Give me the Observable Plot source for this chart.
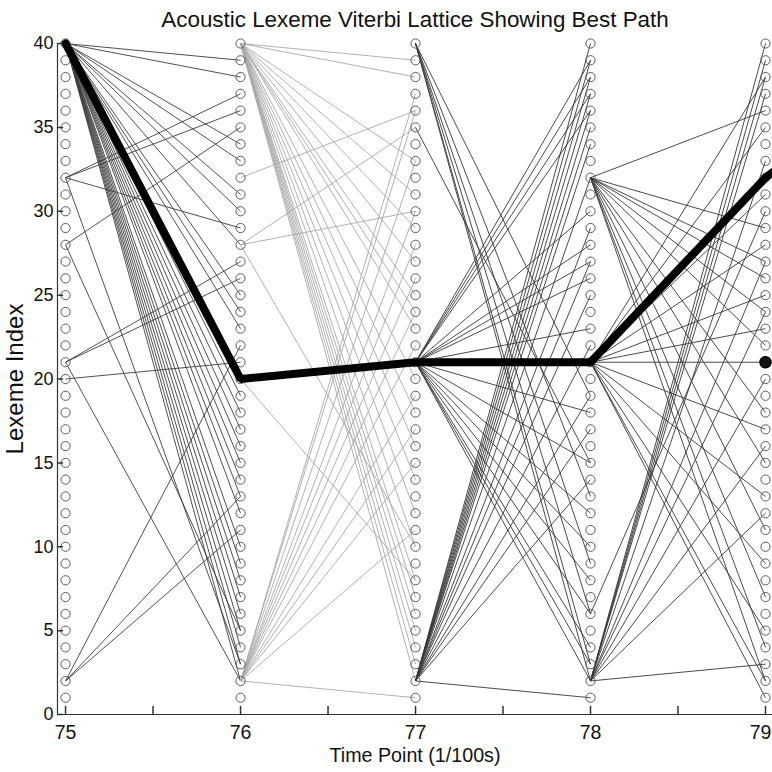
<!DOCTYPE html>
<html><head><meta charset="utf-8">
<script src="https://cdn.jsdelivr.net/npm/d3@7"></script>
<script src="https://cdn.jsdelivr.net/npm/@observablehq/plot@0.6"></script>
<style>html,body{margin:0;padding:0;background:#fff;overflow:hidden}svg{display:block}</style>
</head><body><div id="chart"></div>
<script>
const titleText = "Acoustic Lexeme Viterbi Lattice Showing Best Path";
const xLabel = "Time Point (1/100s)";
const yLabel = "Lexeme Index";
const times = [75, 76, 77, 78, 79];
const states = d3.range(1, 41);
const xTicks = [75, 76, 77, 78];
const xLastTick = [79];
const xAllTicks = [75, 75.5, 76, 76.5, 77, 77.5, 78, 78.5, 79];
const yTicks = [0, 5, 10, 15, 20, 25, 30, 35, 40];
const xDomain = [74.954, 79.04];
const yDomain = [0, 40];

// transitions [from state, to state]
const edges75 = [
  [40,39],[40,38],[40,34],[40,33],[40,31],[40,30],[40,28],[40,25],[40,24],[40,23],[40,19],[40,18],[40,17],
  [40,16],[40,15],[40,14],[40,13],[40,12],[40,10],[40,9],[40,8],[40,7],[40,6],[40,5],[40,4],[40,3],[40,2],
  [32,37],[32,36],[32,29],[32,3],
  [28,35],[28,5],
  [21,27],[21,26],[21,2],
  [20,21],
  [2,22],[2,13],[2,11]
];
const edges76 = [
  [40,39],[40,38],[40,33],[40,31],[40,29],[40,27],[40,25],[40,24],[40,23],[40,20],[40,18],[40,16],[40,14],
  [40,12],[40,10],[40,8],[40,7],[40,6],[40,5],[40,4],[40,3],[40,2],
  [32,36],[28,35],[28,30],[28,10],
  [20,8],
  [2,37],[2,36],[2,33],[2,30],[2,28],[2,26],[2,24],[2,22],[2,19],[2,17],[2,15],[2,11],[2,1]
];
const edges77 = [
  [40,19],[40,13],[40,9],[40,6],[40,3],[40,2],
  [35,15],
  [21,39],[21,38],[21,37],[21,36],[21,30],[21,28],[21,27],[21,26],[21,23],
  [21,18],[21,15],[21,12],[21,10],[21,8],[21,6],[21,4],[21,3],[21,2],
  [2,40],[2,39],[2,38],[2,37],[2,36],[2,35],[2,34],[2,32],[2,29],[2,27],[2,25],[2,22],[2,19],[2,17],[2,14],[2,1]
];
const edges78 = [
  [32,36],[32,29],[32,27],[32,26],[32,24],[32,22],[32,18],[32,15],[32,11],[32,7],[32,4],[32,2],
  [21,38],[21,35],[21,31],[21,28],[21,25],[21,23],[21,21],[21,17],[21,13],[21,9],[21,5],[21,2],[21,1],
  [6,30],
  [2,40],[2,39],[2,38],[2,37],[2,33],[2,27],[2,24],[2,20],[2,16],[2,12],[2,3]
];
const bestTimes = [75, 76, 77, 78, 79, 80];
const bestStates = [40, 20, 21, 21, 32, 40];
const endMarkTime = [79];
const endMarkState = [21];

const segs = (t, list) => list.map(([a, b]) => ({t0: t, t1: t + 1, s0: a, s1: b}));
const nodes = times.flatMap(t => states.map(s => ({t, s})));
const best = bestTimes.map((t, i) => ({t, s: bestStates[i]}));
const endMark = endMarkTime.map((t, i) => ({t, s: endMarkState[i]}));
const tickShape = {draw(ctx, l) { ctx.moveTo(0, 0); ctx.lineTo(0, -l); }};
const linkOpts = {x1: "t0", y1: "s0", x2: "t1", y2: "s1", strokeWidth: 0.9};
const font = "'Liberation Sans', Arial, sans-serif";
const xAxisOpts = {tickSize: 0, tickPadding: 11, fontSize: 19.5, label: null, fill: "#111", tickFormat: d3.format("d")};

const plot = Plot.plot({
  width: 772, height: 772,
  marginLeft: 57, marginRight: 0, marginTop: 43, marginBottom: 58,
  style: {fontFamily: font, background: "#fff", overflow: "hidden", color: "#111"},
  x: {domain: xDomain},
  y: {domain: yDomain},
  marks: [
    Plot.link(segs(75, edges75), {...linkOpts, stroke: "#3c3c3c"}),
    Plot.link(segs(76, edges76), {...linkOpts, stroke: "#a8a8a8"}),
    Plot.link(segs(77, edges77), {...linkOpts, stroke: "#353535"}),
    Plot.link(segs(78, edges78), {...linkOpts, stroke: "#353535"}),
    Plot.dot(nodes, {x: "t", y: "s", r: 4.6, stroke: "#5a5a5a", strokeWidth: 1, fill: "none"}),
    Plot.line(best, {x: "t", y: "s", stroke: "#000", strokeWidth: 8, strokeLinejoin: "miter"}),
    Plot.dot(endMark, {x: "t", y: "s", r: 5.5, fill: "#111", stroke: "#000"}),
    Plot.ruleY(yDomain.slice(0, 1), {stroke: "#333", strokeWidth: 1.2}),
    Plot.ruleX(xDomain.slice(0, 1), {stroke: "#333", strokeWidth: 1.2}),
    Plot.vector(xAllTicks, {x: d => d, frameAnchor: "bottom", length: 8, anchor: "start", rotate: 0, shape: tickShape, stroke: "#333"}),
    Plot.vector(yTicks, {y: d => d, frameAnchor: "left", length: 5, anchor: "start", rotate: 90, shape: tickShape, stroke: "#333"}),
    Plot.axisX(xTicks, xAxisOpts),
    Plot.axisX(xLastTick, {...xAxisOpts, dx: -5}),
    Plot.axisY(yTicks, {tickSize: 0, tickPadding: 4, fontSize: 18, label: null, fill: "#111", tickFormat: d3.format("d")}),
    Plot.text([titleText], {frameAnchor: "top", lineAnchor: "middle", dy: -24, fontSize: 22.4, fill: "#111"}),
    Plot.text([xLabel], {frameAnchor: "bottom", lineAnchor: "middle", dy: 41, fontSize: 19.7, fill: "#111"}),
    Plot.text([yLabel], {frameAnchor: "left", lineAnchor: "middle", textAnchor: "middle", dx: -42, rotate: -90, fontSize: 24, fill: "#111"})
  ]
});
document.getElementById("chart").append(plot);
</script>
</body></html>
